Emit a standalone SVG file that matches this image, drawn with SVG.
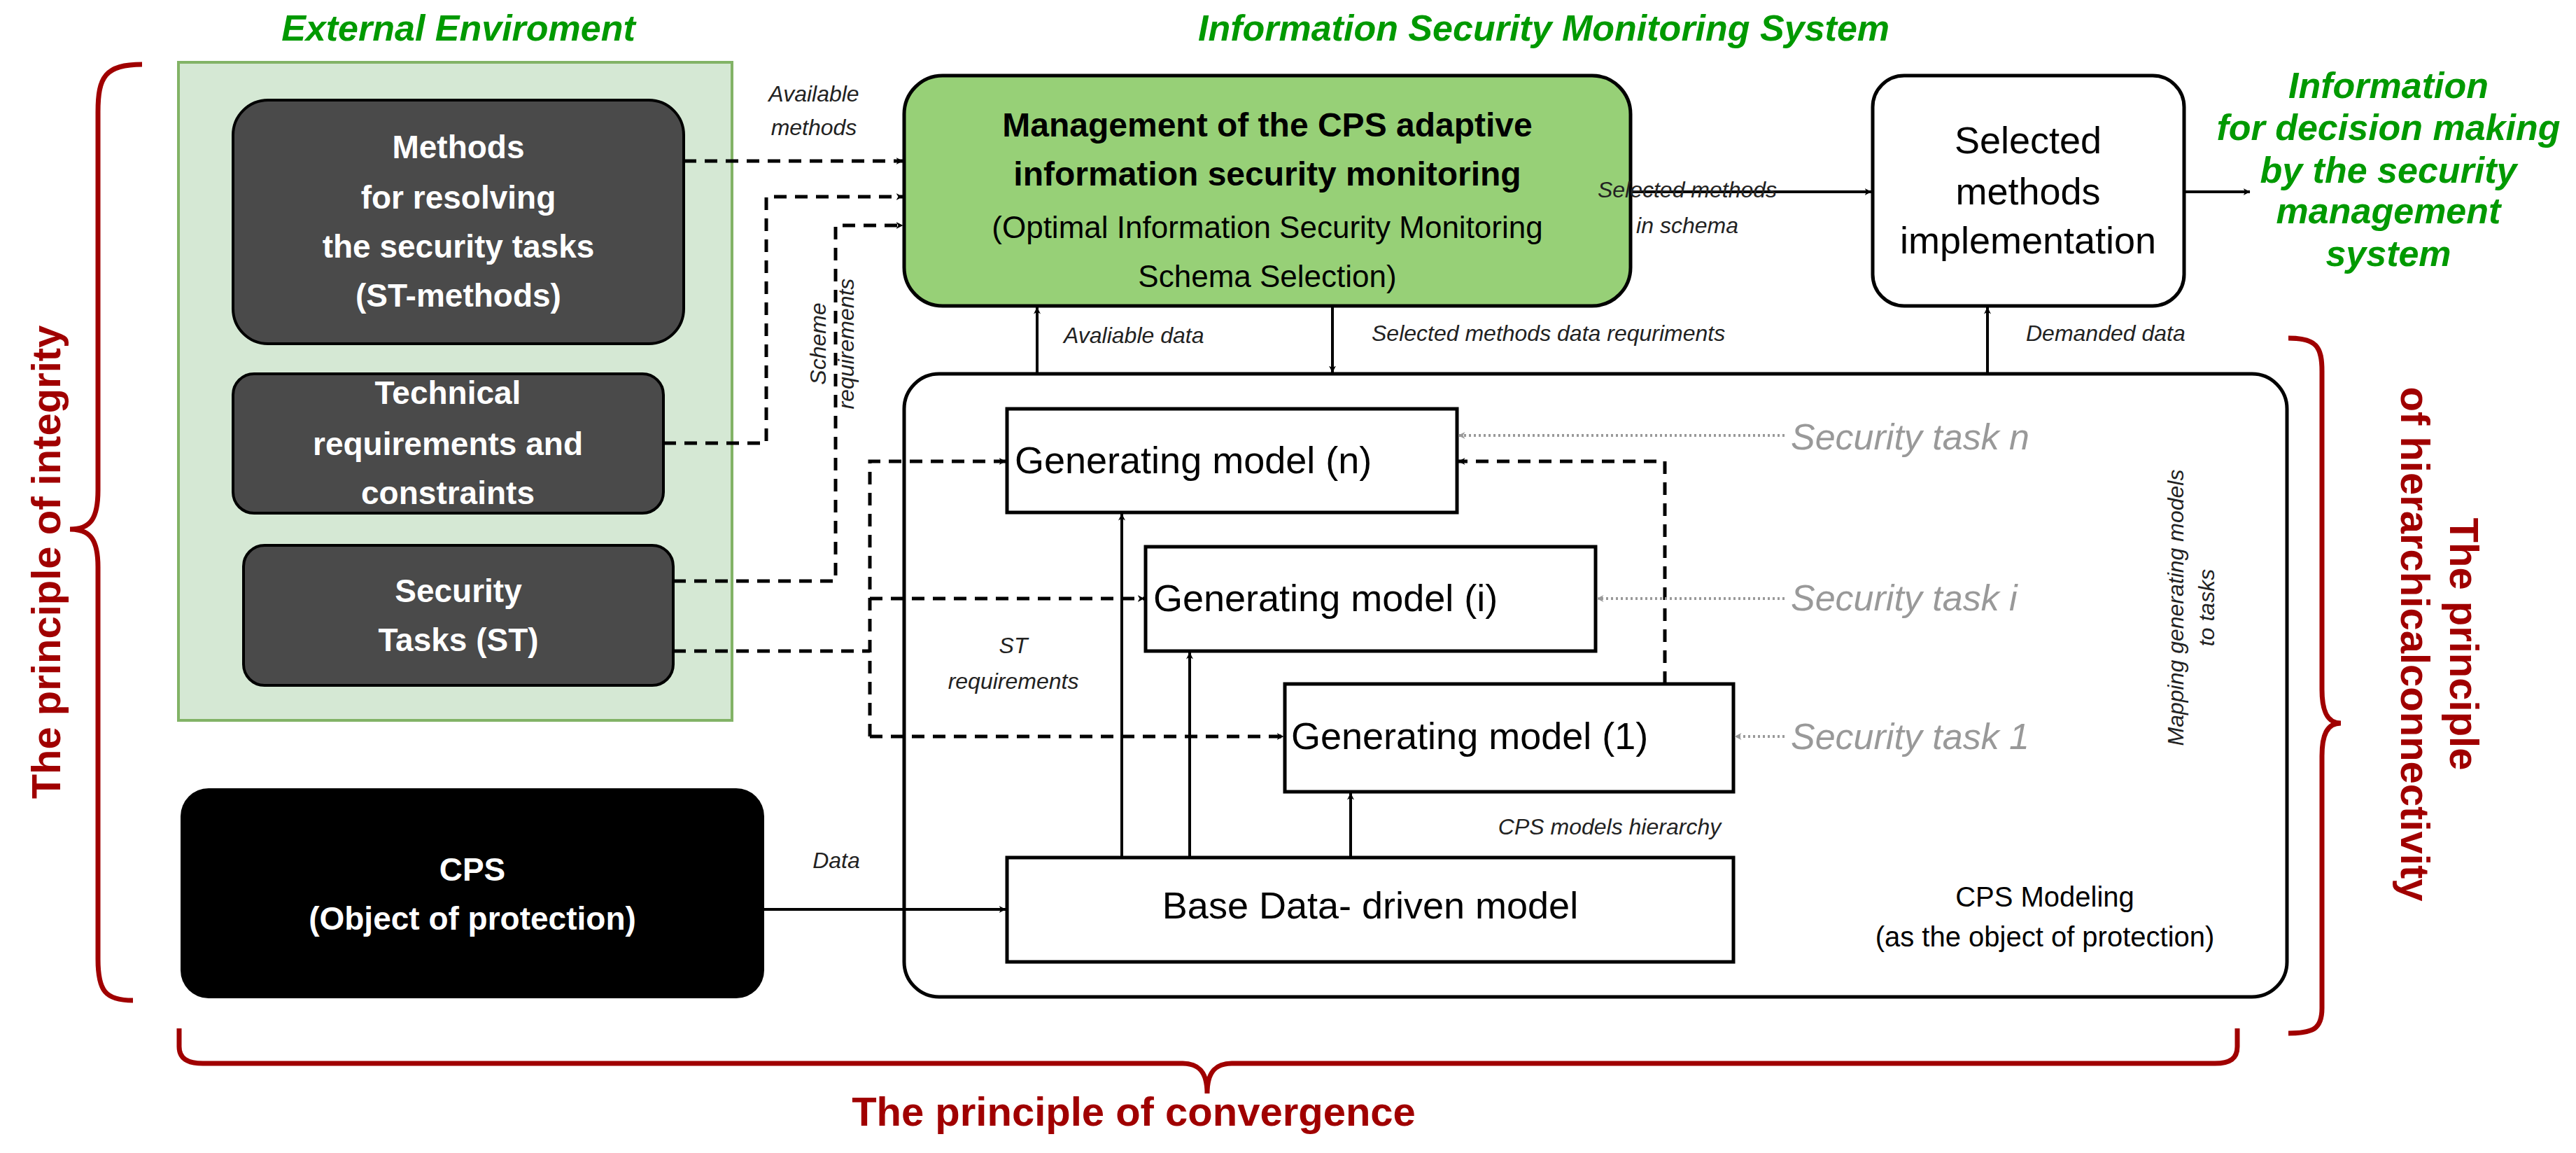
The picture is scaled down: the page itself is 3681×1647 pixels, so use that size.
<svg xmlns="http://www.w3.org/2000/svg" width="3681" height="1647" viewBox="0 0 3681 1647">
<style>
text{font-family:"Liberation Sans",Arial,sans-serif}
.ttl{font-size:52px;font-weight:bold;font-style:italic;fill:#009900}
.wb{font-size:46px;font-weight:bold;fill:#fff}
.lbl{font-size:32px;font-style:italic;fill:#222}
.gm{font-size:54px;fill:#000}
.st{font-size:52px;font-style:italic;fill:#999}
.pr{font-size:58px;font-weight:bold;fill:#a00000}
.dash{fill:none;stroke:#000;stroke-width:5;stroke-dasharray:18 12}
.sol{fill:none;stroke:#000;stroke-width:4}
.dot{fill:none;stroke:#999;stroke-width:4;stroke-dasharray:3 4}
.br{fill:none;stroke:#a00000;stroke-width:7}
</style>
<defs>
<marker id="a" viewBox="0 0 20 20" refX="19" refY="10" markerWidth="10" markerHeight="10" markerUnits="userSpaceOnUse" orient="auto"><path d="M0,0L20,10L0,20L6,10z" fill="#000"/></marker>
<marker id="ag" viewBox="0 0 20 20" refX="19" refY="10" markerWidth="10" markerHeight="10" markerUnits="userSpaceOnUse" orient="auto"><path d="M0,0L20,10L0,20L6,10z" fill="#999"/></marker>
</defs>
<text class="ttl" x="655" y="58" text-anchor="middle">External Enviroment</text>
<text class="ttl" x="2206" y="58" text-anchor="middle">Information Security Monitoring System</text>
<g id="env"><rect x="255" y="89" width="791" height="940" fill="#d5e8d4" stroke="#82b366" stroke-width="4"/></g>
<g id="methods"><rect x="333" y="143" width="644" height="348" rx="50" fill="#4a4a4a" stroke="#000" stroke-width="4"/>
<text class="wb" text-anchor="middle"><tspan x="655" y="226">Methods</tspan><tspan x="655" y="298">for resolving</tspan><tspan x="655" y="368">the security tasks</tspan><tspan x="655" y="438">(ST-methods)</tspan></text></g>
<g id="tech"><rect x="333" y="534" width="615" height="199" rx="30" fill="#4a4a4a" stroke="#000" stroke-width="4"/>
<text class="wb" text-anchor="middle"><tspan x="640" y="577">Technical</tspan><tspan x="640" y="650">requirements and</tspan><tspan x="640" y="720">constraints</tspan></text></g>
<g id="sectasks"><rect x="348" y="779" width="614" height="200" rx="30" fill="#4a4a4a" stroke="#000" stroke-width="4"/>
<text class="wb" text-anchor="middle"><tspan x="655" y="860">Security</tspan><tspan x="655" y="930">Tasks (ST)</tspan></text></g>
<g id="cps"><rect x="258" y="1126" width="834" height="300" rx="40" fill="#000"/>
<text class="wb" text-anchor="middle"><tspan x="675" y="1258">CPS</tspan><tspan x="675" y="1328">(Object of protection)</tspan></text></g>
<g id="mgmt"><rect x="1292" y="108" width="1038" height="329" rx="55" fill="#97d077" stroke="#000" stroke-width="5"/>
<text text-anchor="middle" font-size="48" fill="#000"><tspan x="1811" y="195" font-weight="bold">Management of the CPS adaptive</tspan><tspan x="1811" y="265" font-weight="bold">information security monitoring</tspan><tspan x="1811" y="340" font-size="44">(Optimal Information Security Monitoring</tspan><tspan x="1811" y="410" font-size="44">Schema Selection)</tspan></text></g>
<g id="impl"><rect x="2676" y="108" width="445" height="329" rx="45" fill="#fff" stroke="#000" stroke-width="5"/>
<text class="gm" text-anchor="middle"><tspan x="2898" y="219">Selected</tspan><tspan x="2898" y="292">methods</tspan><tspan x="2898" y="362">implementation</tspan></text></g>
<text class="ttl" font-size="44" text-anchor="middle"><tspan x="3413" y="140">Information</tspan><tspan x="3413" y="200">for decision making</tspan><tspan x="3413" y="261">by the security</tspan><tspan x="3413" y="319">management</tspan><tspan x="3413" y="380">system</tspan></text>
<g id="modeling"><rect x="1292" y="534" width="1976" height="890" rx="50" fill="#fff" stroke="#000" stroke-width="5"/>
<text text-anchor="middle" font-size="40" fill="#000"><tspan x="2922" y="1295">CPS Modeling</tspan><tspan x="2922" y="1352">(as the object of protection)</tspan></text></g>
<g id="genn"><rect x="1439" y="584" width="643" height="148" fill="#fff" stroke="#000" stroke-width="5"/><text class="gm" x="1450" y="676">Generating model (n)</text></g>
<g id="geni"><rect x="1637" y="781" width="643" height="149" fill="#fff" stroke="#000" stroke-width="5"/><text class="gm" x="1648" y="873">Generating model (i)</text></g>
<g id="gen1"><rect x="1836" y="977" width="641" height="154" fill="#fff" stroke="#000" stroke-width="5"/><text class="gm" x="1845" y="1070">Generating model (1)</text></g>
<g id="base"><rect x="1439" y="1225" width="1038" height="149" fill="#fff" stroke="#000" stroke-width="5"/><text class="gm" x="1958" y="1312" text-anchor="middle">Base Data- driven model</text></g>
<text class="st" x="2559" y="642">Security task n</text>
<text class="st" x="2559" y="872">Security task i</text>
<text class="st" x="2559" y="1070">Security task 1</text>
<g id="connectors">
<path class="dash" d="M977,230H1290" marker-end="url(#a)"/>
<path class="dash" d="M948,633H1095V281H1290" marker-end="url(#a)"/>
<path class="dash" d="M962,830H1194V322H1290" marker-end="url(#a)"/>
<path class="dash" d="M962,930H1243"/>
<path class="dash" d="M1243,1052V659H1437" marker-end="url(#a)"/>
<path class="dash" d="M1243,855H1635" marker-end="url(#a)"/>
<path class="dash" d="M1243,1052H1834" marker-end="url(#a)"/>
<path class="dash" d="M2379,977V659H2084" marker-end="url(#a)"/>
<path class="dot" d="M2550,622H2084" marker-end="url(#ag)"/>
<path class="dot" d="M2550,855H2282" marker-end="url(#ag)"/>
<path class="dot" d="M2550,1052H2479" marker-end="url(#ag)"/>
<path class="sol" d="M2330,274H2674" marker-end="url(#a)"/>
<path class="sol" d="M3121,274H3215" marker-end="url(#a)"/>
<path class="sol" d="M1482,534V439" marker-end="url(#a)"/>
<path class="sol" d="M1904,437V532" marker-end="url(#a)"/>
<path class="sol" d="M2840,534V439" marker-end="url(#a)"/>
<path class="sol" d="M1092,1299H1437" marker-end="url(#a)"/>
<path class="sol" d="M1603,1225V734" marker-end="url(#a)"/>
<path class="sol" d="M1700,1225V932" marker-end="url(#a)"/>
<path class="sol" d="M1930,1225V1133" marker-end="url(#a)"/>
</g>
<text class="lbl" text-anchor="middle"><tspan x="1163" y="145">Available</tspan><tspan x="1163" y="193">methods</tspan></text>
<text class="lbl" text-anchor="middle" transform="translate(1180,491) rotate(-90)"><tspan x="0" y="0">Scheme</tspan><tspan x="0" y="40">requirements</tspan></text>
<text class="lbl" x="1520" y="490">Avaliable data</text>
<text class="lbl" x="1960" y="487">Selected methods data requriments</text>
<text class="lbl" x="2895" y="487">Demanded data</text>
<text class="lbl" text-anchor="middle"><tspan x="2411" y="282">Selected methods</tspan><tspan x="2411" y="333">in schema</tspan></text>
<text class="lbl" text-anchor="middle"><tspan x="1448" y="933">ST</tspan><tspan x="1448" y="984">requirements</tspan></text>
<text class="lbl" x="1195" y="1240" text-anchor="middle">Data</text>
<text class="lbl" x="2300" y="1192" text-anchor="middle" font-size="38">CPS models hierarchy</text>
<text class="lbl" text-anchor="middle" transform="translate(3120,868) rotate(-90)"><tspan x="0" y="0">Mapping generating models</tspan><tspan x="0" y="44">to tasks</tspan></text>
<path class="br" d="M203,92C150,92 140,110 140,160V700C140,740 130,756 100,756C130,756 140,772 140,810V1370C140,1415 150,1429 190,1429"/>
<text class="pr" text-anchor="middle" transform="translate(86,803) rotate(-90)">The principle of integrity</text>
<path class="br" d="M3270,483C3310,483 3318,495 3318,530V985C3318,1015 3325,1033 3345,1033C3325,1033 3318,1050 3318,1080V1440C3318,1470 3305,1476 3270,1476"/>
<text class="pr" text-anchor="middle" transform="translate(3431,920) rotate(90)"><tspan x="0" y="-70">The principle</tspan><tspan x="0" y="0">of hierarchicalconnectivity</tspan></text>
<path class="br" d="M256,1469V1495C256,1512 268,1519 290,1519H1690C1712,1519 1725,1530 1725,1562C1725,1530 1738,1519 1760,1519H3165C3187,1519 3197,1512 3197,1495V1469"/>
<text class="pr" x="1620" y="1608" text-anchor="middle">The principle of convergence</text>
</svg>
